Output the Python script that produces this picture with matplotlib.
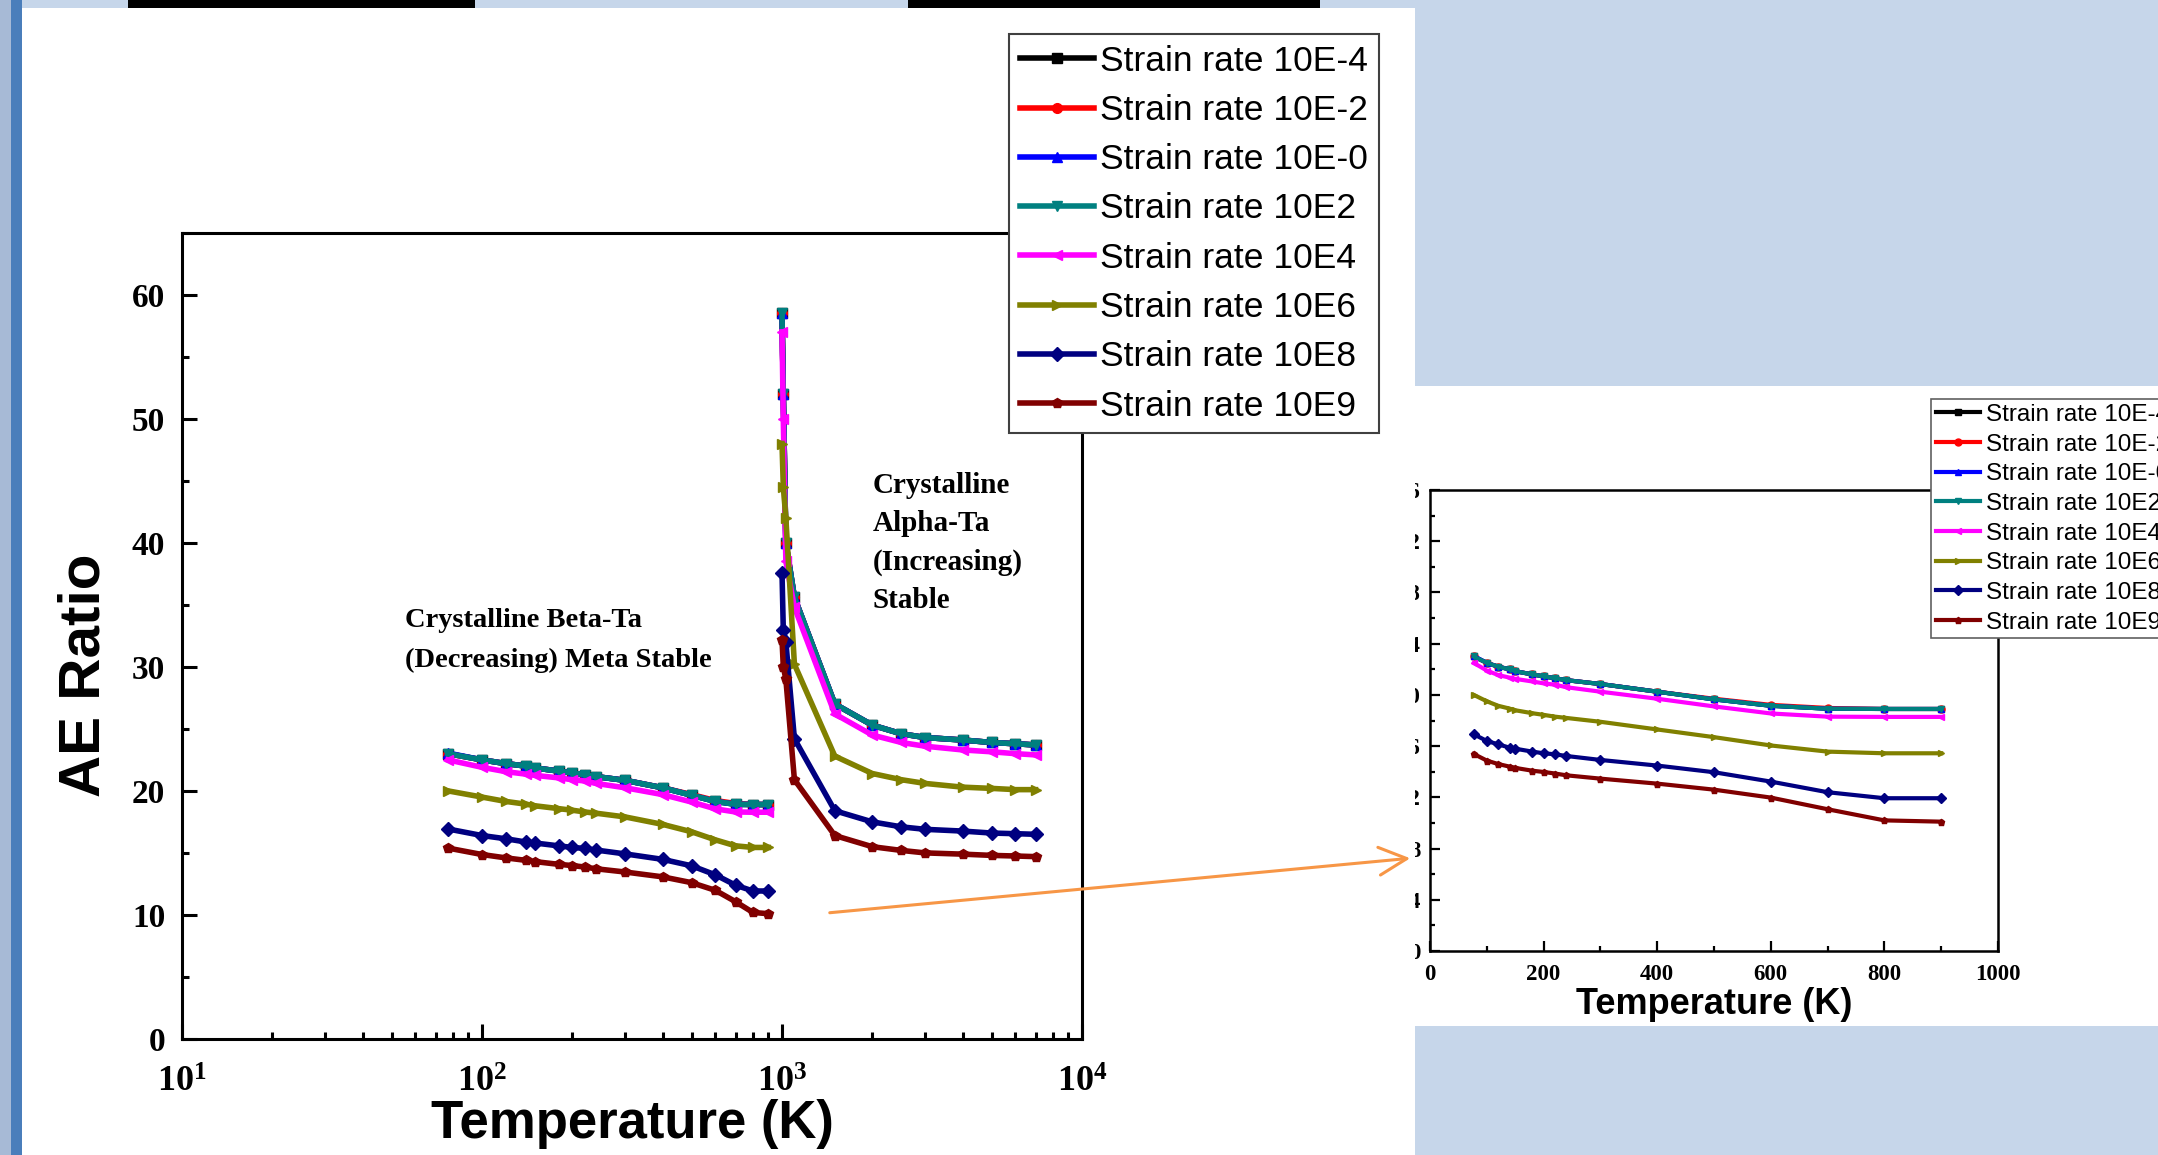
import numpy as np
import matplotlib.pyplot as plt
from matplotlib.patches import Rectangle, FancyArrowPatch
from matplotlib.ticker import MultipleLocator, LogLocator, NullFormatter

plt.rcParams['font.family'] = 'Liberation Serif'
plt.rcParams['font.weight'] = 'bold'
plt.rcParams['mathtext.fontset'] = 'custom'
plt.rcParams['mathtext.bf'] = 'Liberation Serif:bold'
plt.rcParams['mathtext.rm'] = 'Liberation Serif:bold'
plt.rcParams['mathtext.default'] = 'bf'

W, H = 2158, 1155

# legend names, colours, markers
labels = ['Strain rate 10E-4', 'Strain rate 10E-2', 'Strain rate 10E-0', 'Strain rate 10E2',
          'Strain rate 10E4', 'Strain rate 10E6', 'Strain rate 10E8', 'Strain rate 10E9']
colors = ['#000000', '#FF0000', '#0000FF', '#008080', '#FF00FF', '#808000', '#000080', '#800000']
markers = ['s', 'o', '^', 'v', '<', '>', 'D', 'p']

# beta-Ta branch (77 - 900 K)
T_beta = [77, 100, 120, 140, 150, 180, 200, 220, 240, 300, 400, 500, 600, 700, 800, 900]
beta_m4 = [23.0, 22.5, 22.2, 22.0, 21.85, 21.6, 21.45, 21.3, 21.15, 20.85, 20.25, 19.65, 19.15, 18.92, 18.9, 18.9]
beta_m2 = [23.0, 22.5, 22.2, 22.0, 21.85, 21.6, 21.45, 21.3, 21.15, 20.85, 20.25, 19.7, 19.22, 18.98, 18.9, 18.9]
beta_0 = [23.05, 22.5, 22.2, 22.0, 21.85, 21.6, 21.45, 21.3, 21.15, 20.85, 20.25, 19.65, 19.15, 18.92, 18.9, 18.9]
beta_2 = [23.0, 22.5, 22.2, 22.0, 21.85, 21.6, 21.45, 21.3, 21.15, 20.85, 20.25, 19.65, 19.15, 18.92, 18.9, 18.9]
beta_4 = [22.5, 21.9, 21.55, 21.35, 21.25, 21.05, 20.9, 20.8, 20.6, 20.25, 19.7, 19.1, 18.55, 18.3, 18.28, 18.28]
beta_6 = [20.0, 19.5, 19.15, 18.93, 18.8, 18.57, 18.44, 18.3, 18.2, 17.9, 17.3, 16.7, 16.05, 15.57, 15.44, 15.44]
beta_8 = [16.93, 16.4, 16.14, 15.88, 15.8, 15.57, 15.44, 15.36, 15.23, 14.92, 14.48, 13.96, 13.23, 12.4, 11.93, 11.93]
beta_9 = [15.39, 14.87, 14.6, 14.4, 14.3, 14.08, 13.98, 13.86, 13.72, 13.46, 13.07, 12.6, 11.98, 11.07, 10.2, 10.1]

# alpha-Ta branch (1000 - 7000 K)
T_alpha = [1000, 1010, 1030, 1100, 1500, 2000, 2500, 3000, 4000, 5000, 6000, 7000]
alpha_m4 = [58.5, 52.0, 40.0, 35.6, 27.0, 25.3, 24.6, 24.3, 24.1, 23.9, 23.8, 23.7]
alpha_m2 = [58.5, 52.0, 40.0, 35.6, 27.0, 25.3, 24.6, 24.3, 24.1, 23.9, 23.8, 23.7]
alpha_0 = [58.5, 52.0, 40.0, 35.6, 27.0, 25.3, 24.6, 24.3, 24.1, 23.9, 23.8, 23.7]
alpha_2 = [58.5, 52.0, 40.0, 35.6, 27.0, 25.3, 24.6, 24.3, 24.1, 23.9, 23.8, 23.7]
alpha_4 = [57.0, 50.0, 38.5, 34.8, 26.2, 24.5, 23.9, 23.6, 23.3, 23.15, 23.0, 22.9]
alpha_6 = [48.0, 44.5, 42.0, 30.2, 22.8, 21.4, 20.9, 20.6, 20.3, 20.2, 20.1, 20.1]
alpha_8 = [37.6, 33.0, 32.0, 24.2, 18.4, 17.5, 17.1, 16.9, 16.76, 16.6, 16.55, 16.5]
alpha_9 = [32.2, 30.0, 29.0, 20.9, 16.4, 15.5, 15.2, 15.0, 14.9, 14.8, 14.75, 14.7]

beta = [beta_m4, beta_m2, beta_0, beta_2, beta_4, beta_6, beta_8, beta_9]
alpha = [alpha_m4, alpha_m2, alpha_0, alpha_2, alpha_4, alpha_6, alpha_8, alpha_9]


def fr(x0, y0, x1, y1):
    # pixel box (top-left origin) -> figure fraction rect
    return (x0 / W, 1 - y1 / H), (x1 - x0) / W, (y1 - y0) / H


fig = plt.figure(figsize=(W / 100, H / 100), dpi=100, facecolor='#C6D6EA')

# slide decorations
for box, col in [((0, 0, 11, H), '#A7BAD6'), ((11, 0, 22, H), '#4A7EBB'),
                 ((22, 8, 1415, H), 'white'), ((1415, 386, W, 1026), 'white'),
                 ((128, 0, 475, 8), 'black'), ((908, 0, 1320, 8), 'black')]:
    xy, w, h = fr(*box)
    fig.add_artist(Rectangle(xy, w, h, transform=fig.transFigure, color=col, lw=0, zorder=-5))

# ===== main chart =====
ax = fig.add_axes([182 / W, 1 - 1039 / H, 900 / W, (1039 - 232.6) / H])
ax.set_facecolor('none')
for i in range(8):
    ax.plot(T_beta, beta[i], color=colors[i], marker=markers[i], ms=7, lw=4, label=labels[i])
    ax.plot(T_alpha, alpha[i], color=colors[i], marker=markers[i], ms=7, lw=4)

ax.set_xscale('log')
ax.set_xlim(10, 1e4)
ax.set_ylim(0, 65)
ax.yaxis.set_major_locator(MultipleLocator(10))
ax.yaxis.set_minor_locator(MultipleLocator(5))
ax.xaxis.set_minor_locator(LogLocator(base=10, subs=np.arange(2, 10)))
ax.xaxis.set_minor_formatter(NullFormatter())
ax.tick_params(which='both', direction='in', width=2.2, top=False, right=False)
ax.tick_params(which='major', length=11)
ax.tick_params(which='minor', length=5)
ax.tick_params(axis='y', labelsize=24, pad=12)
ax.tick_params(axis='x', labelsize=26, pad=20)
for s in ax.spines.values():
    s.set_linewidth(2.2)

ax.set_xlabel('Temperature (K)', fontsize=38, fontfamily='Liberation Sans', fontweight='bold')
ax.xaxis.set_label_coords(0.5, -0.075)
ax.set_ylabel('AE Ratio', fontsize=42, fontfamily='Liberation Sans', fontweight='bold')
ax.yaxis.set_label_coords(-0.078, 0.451)

ax.text(0.248, 0.535, 'Crystalline Beta-Ta\n(Decreasing) Meta Stable', transform=ax.transAxes,
        ha='left', va='top', fontsize=20.5, linespacing=1.8)
ax.text(0.767, 0.703, 'Crystalline\nAlpha-Ta\n(Increasing)\nStable', transform=ax.transAxes,
        ha='left', va='top', fontsize=21, linespacing=1.53)

leg = ax.legend(loc='upper left', bbox_to_anchor=(1009 / W, 1 - 34 / H), bbox_transform=fig.transFigure,
                prop={'family': 'Liberation Sans', 'size': 25.5, 'weight': 'normal'},
                fancybox=False, edgecolor='#404040', framealpha=1, borderpad=0.3, labelspacing=0.46,
                handlelength=2.1, handletextpad=0.18, borderaxespad=0, numpoints=1)
leg.get_frame().set_linewidth(1.5)

# ===== zoomed chart (linear scale) =====
ax2 = fig.add_axes([1430 / W, 1 - 951 / H, 568 / W, 461 / H])
for i in range(8):
    ax2.plot(T_beta, beta[i], color=colors[i], marker=markers[i], ms=5, lw=3, label=labels[i])
ax2.set_xlim(0, 1000)
ax2.set_ylim(0, 36)
ax2.xaxis.set_major_locator(MultipleLocator(200))
ax2.xaxis.set_minor_locator(MultipleLocator(100))
ax2.yaxis.set_major_locator(MultipleLocator(4))
ax2.yaxis.set_minor_locator(MultipleLocator(2))
ax2.tick_params(which='both', direction='in', width=1.6, top=False, right=False, labelsize=16.5)
ax2.tick_params(which='major', length=7)
ax2.tick_params(which='minor', length=3.6)
ax2.tick_params(axis='x', pad=9)
ax2.tick_params(axis='y', pad=7)
for s in ax2.spines.values():
    s.set_linewidth(1.8)
ax2.set_xlabel('Temperature (K)', fontsize=26, fontfamily='Liberation Sans', fontweight='bold')
ax2.xaxis.set_label_coords(0.5, -0.078)

leg2 = ax2.legend(loc='upper left', bbox_to_anchor=(1931 / W, 1 - 399 / H), bbox_transform=fig.transFigure,
                  prop={'family': 'Liberation Sans', 'size': 17.5, 'weight': 'normal'},
                  fancybox=False, edgecolor='#606060', framealpha=1, borderpad=0.2, labelspacing=0.315,
                  handlelength=1.8, handletextpad=0.25, borderaxespad=0, numpoints=1)
leg2.get_frame().set_linewidth(1.2)

# the zoomed chart's y labels are cut by its white frame
xy, w, h = fr(1360, 470, 1415, 990)
fig.add_artist(Rectangle(xy, w, h, transform=fig.transFigure, color='white', lw=0, zorder=1))

arrow = FancyArrowPatch((827 / W, 1 - 913 / H), (1413 / W, 1 - 858 / H), transform=fig.transFigure,
                        arrowstyle='->,head_length=0.8,head_width=0.4', mutation_scale=25,
                        color='#F79646', lw=2.2, zorder=10)
fig.add_artist(arrow)

fig.savefig('out.png', dpi=100, facecolor=fig.get_facecolor())
